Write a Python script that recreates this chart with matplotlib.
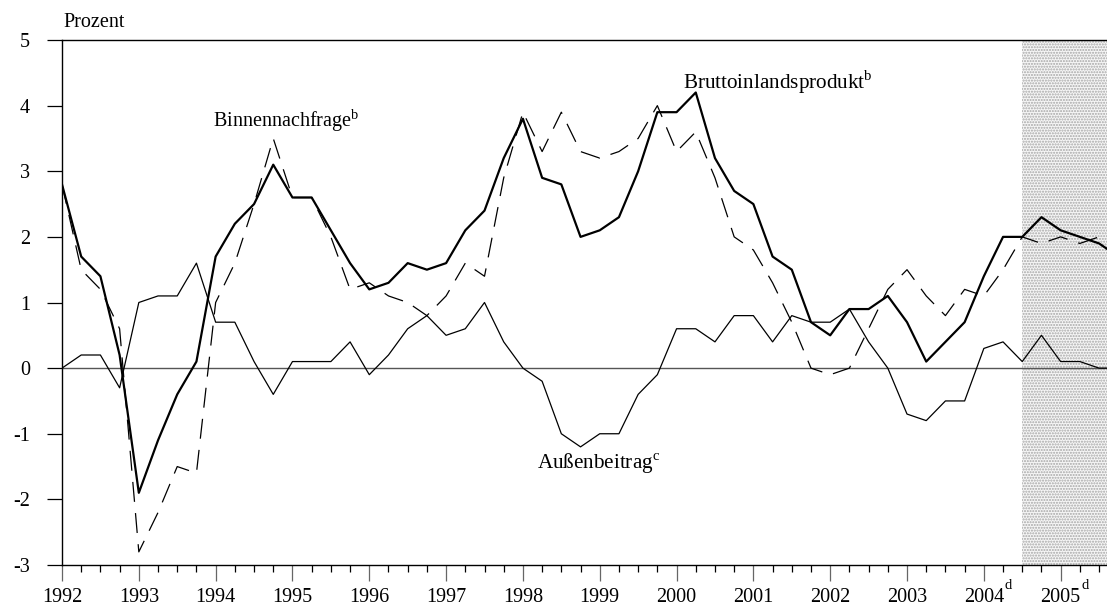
import numpy as np
import matplotlib
matplotlib.use("Agg")
import matplotlib.pyplot as plt
from matplotlib.ticker import FixedLocator, MultipleLocator

plt.rcParams['font.family'] = ['Liberation Serif', 'DejaVu Serif']
plt.rcParams['mathtext.fontset'] = 'custom'
plt.rcParams['mathtext.rm'] = 'Liberation Serif'
plt.rcParams['axes.unicode_minus'] = False
plt.rcParams['hatch.linewidth'] = 1.0

# quarterly values, 1992Q1 .. 2005Q4, Prozent
bip = [2.8, 1.7, 1.4, 0.2, -1.9, -1.1, -0.4, 0.1,
       1.7, 2.2, 2.5, 3.1, 2.6, 2.6, 2.1, 1.6,
       1.2, 1.3, 1.6, 1.5, 1.6, 2.1, 2.4, 3.2,
       3.8, 2.9, 2.8, 2.0, 2.1, 2.3, 3.0, 3.9,
       3.9, 4.2, 3.2, 2.7, 2.5, 1.7, 1.5, 0.7,
       0.5, 0.9, 0.9, 1.1, 0.7, 0.1, 0.4, 0.7,
       1.4, 2.0, 2.0, 2.3, 2.1, 2.0, 1.9, 1.7]
binnen = [2.8, 1.5, 1.2, 0.6, -2.8, -2.2, -1.5, -1.6,
          1.0, 1.6, 2.5, 3.5, 2.6, 2.6, 2.0, 1.2,
          1.3, 1.1, 1.0, 0.8, 1.1, 1.6, 1.4, 2.9,
          3.9, 3.3, 3.9, 3.3, 3.2, 3.3, 3.5, 4.0,
          3.3, 3.6, 2.9, 2.0, 1.8, 1.3, 0.7, 0.0,
          -0.1, 0.0, 0.6, 1.2, 1.5, 1.1, 0.8, 1.2,
          1.1, 1.5, 2.0, 1.9, 2.0, 1.9, 2.0, 1.9]
aussen = [0.0, 0.2, 0.2, -0.3, 1.0, 1.1, 1.1, 1.6,
          0.7, 0.7, 0.1, -0.4, 0.1, 0.1, 0.1, 0.4,
          -0.1, 0.2, 0.6, 0.8, 0.5, 0.6, 1.0, 0.4,
          0.0, -0.2, -1.0, -1.2, -1.0, -1.0, -0.4, -0.1,
          0.6, 0.6, 0.4, 0.8, 0.8, 0.4, 0.8, 0.7,
          0.7, 0.9, 0.4, 0.0, -0.7, -0.8, -0.5, -0.5,
          0.3, 0.4, 0.1, 0.5, 0.1, 0.1, 0.0, 0.0]

years = list(range(1992, 2006))
forecast_years = [2004, 2005]   # labels marked with footnote d
x = 1992 + np.arange(len(bip)) / 4.0

fig = plt.figure(figsize=(11.07, 6.09), dpi=100)
ax = fig.add_axes([62/1107, 44/609, 1 - 62/1107, 525/609])

# forecast period
ax.axvspan(2004.5, 2006, facecolor='#f6f6f6', edgecolor='#a6a6a6',
           hatch='......', linewidth=0, zorder=0)

ax.axhline(0, color='#555555', lw=1.0, zorder=1)
ax.plot(x, aussen, color='black', lw=0.9, zorder=3)
ax.plot(x, binnen, color='black', lw=0.9, dashes=(16, 9), zorder=3)
ax.plot(x, bip, color='black', lw=1.6, zorder=4)

ax.set_xlim(1992, 1992 + (1107 - 62) / 76.82)
ax.set_ylim(-3, 5)
ax.spines['right'].set_visible(False)
for s in ['left', 'top', 'bottom']:
    ax.spines[s].set_linewidth(1.0)

ax.xaxis.set_major_locator(FixedLocator(years))
ax.xaxis.set_minor_locator(MultipleLocator(0.25))
ax.set_xticklabels([str(y) for y in years])
ax.tick_params(axis='x', which='major', length=11.5, width=0.9, color='#666666',
               labelsize=14.5, pad=5)
ax.tick_params(axis='x', which='minor', length=5, width=0.9, color='black')
ax.set_yticks(range(-3, 6))
ax.tick_params(axis='y', length=11, width=0.9, labelsize=14.5, pad=12)

# footnote marks on the forecast years
for y in forecast_years:
    ax.text(y + 0.275, -0.026, 'd', transform=ax.get_xaxis_transform(),
            fontsize=10.5, va='top', ha='left')

fig.text(63/1107, 1 - 27/609, 'Prozent', fontsize=14.5, va='baseline')

ax.text(1993.96, 3.67, 'Binnennachfrage$^{\\mathrm{b}}$', fontsize=14.5, va='baseline')
ax.text(2000.08, 4.26, 'Bruttoinlandsprodukt$^{\\mathrm{b}}$', fontsize=15.2, va='baseline')
ax.text(1998.18, -1.53, 'Außenbeitrag$^{\\mathrm{c}}$', fontsize=15.2, va='baseline')

plt.savefig('out.png', dpi=100)
